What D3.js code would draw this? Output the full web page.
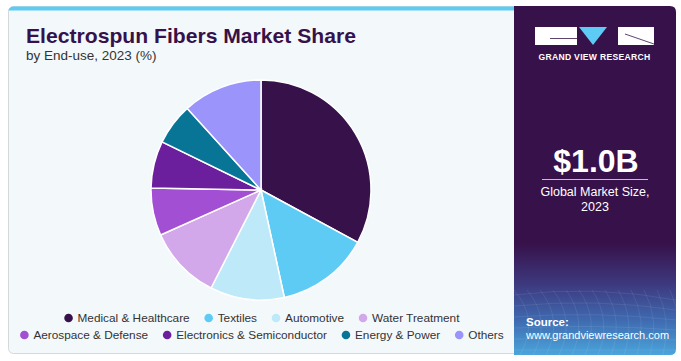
<!DOCTYPE html>
<html><head><meta charset="utf-8">
<script src="https://cdn.jsdelivr.net/npm/d3@7"></script>
<style>body{margin:0;background:#fff}svg{display:block}</style>
</head><body>
<script>
const categories = ["Medical & Healthcare","Textiles","Automotive","Water Treatment","Aerospace & Defense","Electronics & Semiconductor","Energy & Power","Others"];
const values = [32.9,13.7,10.9,10.8,7.0,6.9,6.1,11.7];
const colors = ["#37114a","#5ecbf5","#bde9f8","#d3a8ea","#a24fd4","#6c1f9c","#087597","#9a94fb"];
const legendRows = [[0,1,2,3],[4,5,6,7]];

const W=681,H=361;
const svg=d3.select("body").append("svg").attr("width",W).attr("height",H);
const defs=svg.append("defs");
const g1=defs.append("linearGradient").attr("id","rg").attr("x1",0).attr("y1",0).attr("x2",0).attr("y2",1);
[[0,"#37114a"],[0.68,"#37114a"],[0.8,"#3d3a80"],[0.9,"#3f6ab0"],[1,"#4aa5dc"]].forEach(s=>g1.append("stop").attr("offset",s[0]).attr("stop-color",s[1]));

// left card
svg.append("rect").attr("x",8.5).attr("y",6.5).attr("width",520).attr("height",347).attr("rx",5)
  .attr("fill","#f3f8fb").attr("stroke","#d4d8dc");
svg.append("path").attr("d","M8.5,12 Q8.5,6.5 14,6.5 L514,6.5 L514,10.5 L8.5,10.5 Z").attr("fill","#5ecbf5");
// right panel
svg.append("path").attr("d","M514,6 L670,6 Q676,6 676,12 L676,349 Q676,355 670,355 L514,355 Z").attr("fill","url(#rg)");
const grid=svg.append("g").attr("stroke","#ffffff").attr("stroke-opacity",0.08).attr("fill","none");
for(let i=0;i<14;i++){grid.append("path").attr("d",`M${514+i*13},290 Q${540+i*12},320 ${520+i*13},355`);}
for(let j=0;j<6;j++){grid.append("path").attr("d",`M514,${295+j*11} Q595,${285+j*13} 676,${300+j*10}`);}

// title
const t=svg.append("text").attr("x",26).attr("y",43).attr("fill","#37114a")
  .attr("font-family","Liberation Sans, Arial, sans-serif").attr("font-weight","bold").attr("font-size",21)
  .text("Electrospun Fibers Market Share");
t.attr("textLength",330).attr("lengthAdjust","spacingAndGlyphs");
svg.append("text").attr("x",26).attr("y",60).attr("fill","#333")
  .attr("font-family","Liberation Sans, Arial, sans-serif").attr("font-size",13.5)
  .text("by End-use, 2023 (%)");

// pie
const cx=261,cy=190,r=110;
const pie=d3.pie().sort(null).value(d=>d)(values);
const arc=d3.arc().innerRadius(0).outerRadius(r);
svg.append("g").attr("transform",`translate(${cx},${cy})`).selectAll("path").data(pie).join("path")
  .attr("d",arc).attr("fill",(d,i)=>colors[i]).attr("stroke","#fff").attr("stroke-width",1.5);

// legend
const lg=svg.append("g").attr("font-family","Liberation Sans, Arial, sans-serif").attr("font-size",11.8).attr("fill","#333");
const rowY=[322,339];
legendRows.forEach((row,ri)=>{
  const items=row.map(i=>{const tt=lg.append("text").attr("y",rowY[ri]).text(categories[i]);return {i,tt,w:tt.node().getComputedTextLength()};});
  const total=d3.sum(items,d=>d.w+9)+19*(items.length-1)+4;
  let x=262-total/2+4;
  items.forEach(d=>{
    lg.append("circle").attr("cx",x).attr("cy",rowY[ri]-4).attr("r",4.3).attr("fill",colors[d.i]);
    d.tt.attr("x",x+9);
    x+=9+d.w+19;
  });
});

// right panel content
const wf="Liberation Sans, Arial, sans-serif";
const logo=svg.append("g");
logo.append("rect").attr("x",535).attr("y",27).attr("width",42).attr("height",18).attr("fill","#fff");
logo.append("path").attr("d","M550,38.5 L577,38.5").attr("stroke","#37114a").attr("stroke-width",0.8);
logo.append("path").attr("d","M579,27 L607,27 L593,45 Z").attr("fill","#5ecbf5");
logo.append("rect").attr("x",618).attr("y",27).attr("width",36).attr("height",18).attr("fill","#fff");
logo.append("path").attr("d","M625,34 L654,44").attr("stroke","#37114a").attr("stroke-width",0.8);
svg.append("text").attr("x",594.5).attr("y",60).attr("text-anchor","middle").attr("fill","#fff")
  .attr("font-family",wf).attr("font-weight","bold").attr("font-size",8.6).attr("letter-spacing",0.3)
  .text("GRAND VIEW RESEARCH");
svg.append("text").attr("x",596).attr("y",172).attr("text-anchor","middle").attr("fill","#fff")
  .attr("font-family",wf).attr("font-weight","bold").attr("font-size",32).text("$1.0B");
svg.append("line").attr("x1",542).attr("x2",648).attr("y1",179.5).attr("y2",179.5).attr("stroke","#c9b8d8").attr("stroke-width",1);
svg.append("text").attr("x",595).attr("y",196).attr("text-anchor","middle").attr("fill","#fff")
  .attr("font-family",wf).attr("font-size",12.5).text("Global Market Size,");
svg.append("text").attr("x",595).attr("y",211).attr("text-anchor","middle").attr("fill","#fff")
  .attr("font-family",wf).attr("font-size",12.5).text("2023");
svg.append("text").attr("x",526).attr("y",326).attr("fill","#fff")
  .attr("font-family",wf).attr("font-weight","bold").attr("font-size",11.5).text("Source:");
svg.append("text").attr("x",526).attr("y",339).attr("fill","#fff")
  .attr("font-family",wf).attr("font-size",11).text("www.grandviewresearch.com");
</script>
</body></html>
